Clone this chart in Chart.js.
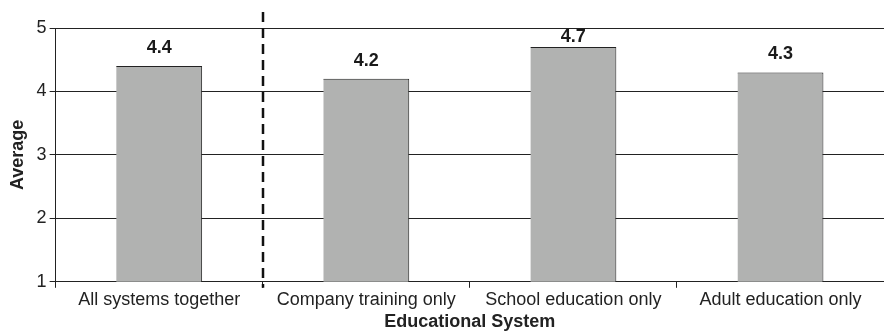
<!DOCTYPE html>
<html>
<head>
<meta charset="utf-8">
<script src="https://cdn.jsdelivr.net/npm/chart.js@4/dist/chart.umd.min.js"></script>
<style>
html,body{margin:0;padding:0;background:#fff;}
#wrap{width:884px;height:333px;}
</style>
</head>
<body>
<div id="wrap"><canvas id="c" width="884" height="333"></canvas></div>
<script>
const categories = ["All systems together", "Company training only", "School education only", "Adult education only"];
const averages = [4.4, 4.2, 4.7, 4.3];
const valueLabels = ["4.4", "4.2", "4.7", "4.3"];
const yTicks = [1, 2, 3, 4, 5];

const FONT = "'Liberation Sans', Arial, sans-serif";

const extras = {
  id: 'extras',
  afterDatasetsDraw(chart) {
    const ctx = chart.ctx;
    const xs = chart.scales.x, ys = chart.scales.y;
    // dashed separator between first and second category
    const xd = Math.round((xs.getPixelForValue(0) + xs.getPixelForValue(1)) / 2);
    ctx.save();
    ctx.strokeStyle = '#111';
    ctx.lineWidth = 2.5;
    ctx.setLineDash([10, 6]);
    ctx.beginPath();
    ctx.moveTo(xd, 12);
    ctx.lineTo(xd, ys.bottom + 6);
    ctx.stroke();
    ctx.restore();
    // value labels
    const meta = chart.getDatasetMeta(0);
    ctx.save();
    ctx.fillStyle = '#1a1a1a';
    ctx.font = 'bold 18px ' + FONT;
    ctx.textAlign = 'center';
    ctx.textBaseline = 'middle';
    meta.data.forEach((bar, i) => {
      let y = bar.y - 18;
      if (y < ys.top + 9) y = ys.top + 9;
      ctx.fillText(valueLabels[i], bar.x, y);
    });
    ctx.restore();
  }
};

new Chart(document.getElementById('c'), {
  type: 'bar',
  data: {
    labels: categories,
    datasets: [{
      data: averages,
      backgroundColor: '#b1b2b1',
      borderColor: '#222',
      borderWidth: {top: 1, right: 1, left: 0, bottom: 0},
      borderSkipped: 'bottom',
      barPercentage: 0.415,
      categoryPercentage: 1.0
    }]
  },
  options: {
    responsive: false,
    animation: false,
    devicePixelRatio: 1,
    layout: {padding: {top: 28, right: 0, left: 7, bottom: 0}},
    plugins: {legend: {display: false}, tooltip: {enabled: false}},
    scales: {
      x: {
        grid: {display: true, offset: true, drawOnChartArea: false, drawTicks: true, tickLength: 6, color: '#222'},
        border: {display: true, color: '#222', width: 1},
        ticks: {color: '#222', font: {family: FONT, size: 18}, maxRotation: 0, padding: 1},
        title: {display: true, text: 'Educational System', color: '#222', font: {family: FONT, size: 18, weight: 'bold'}, padding: {top: 0, bottom: 0}}
      },
      y: {
        min: 1, max: 5,
        afterBuildTicks(scale) { scale.ticks = yTicks.map(v => ({value: v})); },
        grid: {color: '#222', lineWidth: 1, tickLength: 6},
        border: {display: true, color: '#222', width: 1},
        ticks: {color: '#222', font: {family: FONT, size: 18}, padding: 3},
        title: {display: true, text: 'Average', color: '#222', font: {family: FONT, size: 18, weight: 'bold'}, padding: {top: 0, bottom: 5}}
      }
    }
  },
  plugins: [extras]
});
</script>
</body>
</html>
